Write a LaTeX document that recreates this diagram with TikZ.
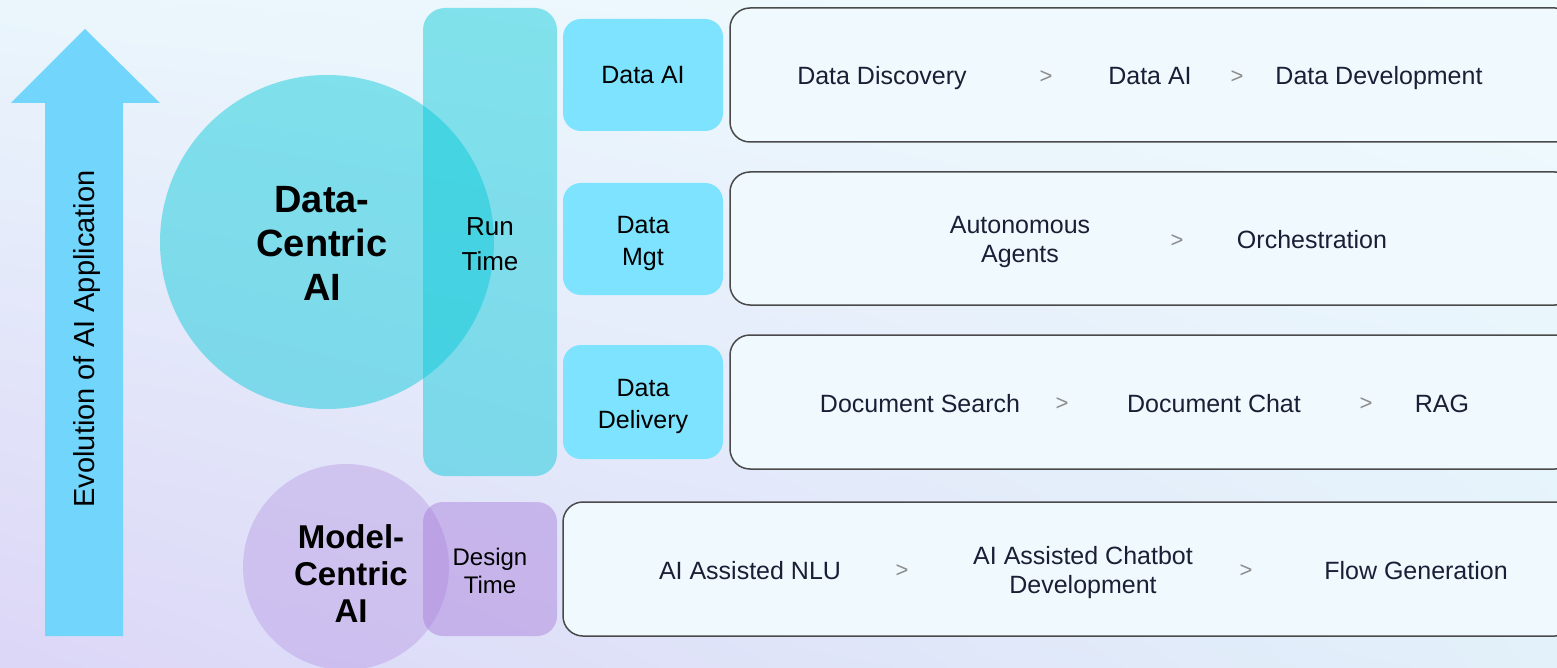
\documentclass[tikz,border=0pt]{standalone}
\usepackage{fontspec}
\setmainfont{Liberation Sans}
\usetikzlibrary{shapes.geometric,shadings}
\definecolor{arrowblue}{HTML}{71D5FC}
\definecolor{cyanC}{HTML}{00C8D8}
\definecolor{purpC}{HTML}{A77CDB}
\definecolor{boxblue}{HTML}{7DE3FE}
\definecolor{rowfill}{HTML}{F0FAFE}
\definecolor{rowline}{HTML}{4A4A4A}
\definecolor{txtnavy}{HTML}{1A1F36}
\definecolor{chev}{HTML}{8C8C8C}
\definecolor{bgTL}{HTML}{EAF6FC}
\definecolor{bgTR}{HTML}{F0FBFE}
\definecolor{bgBL}{HTML}{DCD6F7}
\definecolor{bgBR}{HTML}{E2F1FA}
\tikzset{
  rowbox/.style={draw=rowline, line width=1.5pt, fill=rowfill, rounded corners=20pt, minimum height=134pt, inner sep=0pt},
  catbox/.style={fill=boxblue, rounded corners=18pt, minimum width=160pt, minimum height=112pt, inner sep=0pt, align=center, font=\fontsize{25}{32}\selectfont, text=black},
  cattxt/.style={align=center, font=\fontsize{25}{32}\selectfont, text=black, inner sep=0pt},
  rowtxt/.style={text=txtnavy, align=center, font=\fontsize{25}{29}\selectfont, inner sep=0pt},
  rowline1/.style={rowtxt, anchor=base},
  chevron/.style={text=chev, font=\fontsize{22}{24}\selectfont, inner sep=0pt},
}
\begin{document}
\begin{tikzpicture}[x=1pt,y=-1pt]
\useasboundingbox (0,0) rectangle (1557,668);
\clip (0,0) rectangle (1557,668);
% background
\shade[upper left=bgTL, upper right=bgTR, lower left=bgBL, lower right=bgBR] (0,0) rectangle (1557,668);

% evolution arrow
\fill[arrowblue] (45,636) -- (45,103) -- (11,103) -- (85,29) -- (160,103) -- (123,103) -- (123,636) -- cycle;
\node[rotate=90, font=\fontsize{29}{32}\selectfont, text=black] (evo) at (87,339) {Evolution of AI Application};

% data-centric circle and run time bar
\fill[cyanC, opacity=0.45] (327,242) circle[radius=167];
\node[fill=cyanC, fill opacity=0.45, rounded corners=22pt, minimum width=134pt, minimum height=468pt, inner sep=0pt] (runbar) at (490,242) {};
\node[align=center, font=\bfseries\fontsize{38}{44}\selectfont, text=black] (dc) at (322,243) {Data-\\Centric\\AI};
\node[align=center, font=\fontsize{26}{35}\selectfont, text=black] (rt) at (490,244) {Run\\Time};

% model-centric circle and design time box
\fill[purpC, opacity=0.3] (346,567) circle[radius=103];
\node[fill=purpC, fill opacity=0.45, rounded corners=20pt, minimum width=134pt, minimum height=134pt, inner sep=0pt] (dtbox) at (490,569) {};
\node[align=center, font=\bfseries\fontsize{33}{37}\selectfont, text=black] (mc) at (351,574) {Model-\\Centric\\AI};
\node[align=center, font=\fontsize{24}{28}\selectfont, text=black] (dt) at (490,571) {Design\\Time};

% category boxes
\node[catbox] (dai) at (643,75) {Data AI};
\node[catbox] (dmgt) at (643,239) {};
\node[cattxt] (dmgtT) at (643,243) {Data\\Mgt};
\node[catbox, minimum height=114pt] (ddel) at (643,402) {};
\node[cattxt] (ddelT) at (643,406) {Data\\Delivery};

% row boxes
\node[rowbox, minimum width=845pt] (row1) at (1152.5,75) {};
\node[rowbox, minimum width=845pt, minimum height=133pt] (row2) at (1152.5,238.5) {};
\node[rowbox, minimum width=845pt] (row3) at (1152.5,402) {};
\node[rowbox, minimum width=1012pt] (row4) at (1069,569) {};

% row 1
\node[rowline1] (r1a) at (882,85) {Data Discovery};
\node[chevron] (r1c1) at (1046,77) {>};
\node[rowline1] (r1b) at (1150,85) {Data AI};
\node[chevron] (r1c2) at (1237,77) {>};
\node[rowline1] (r1d) at (1379,85) {Data Development};

% row 2
\node[rowtxt] (r2a) at (1020,242) {Autonomous\\Agents};
\node[chevron] (r2c1) at (1177,241) {>};
\node[rowline1] (r2b) at (1312,249) {Orchestration};

% row 3
\node[rowline1] (r3a) at (920,412) {Document Search};
\node[chevron] (r3c1) at (1062,404) {>};
\node[rowline1] (r3b) at (1214,412) {Document Chat};
\node[chevron] (r3c2) at (1366,404) {>};
\node[rowline1] (r3d) at (1442,412) {RAG};

% row 4
\node[rowline1] (r4a) at (750,579) {AI Assisted NLU};
\node[chevron] (r4c1) at (902,571) {>};
\node[rowtxt] (r4b) at (1083,573) {AI Assisted Chatbot\\Development};
\node[chevron] (r4c2) at (1246,571) {>};
\node[rowline1] (r4d) at (1416,579) {Flow Generation};
\end{tikzpicture}
\end{document}
